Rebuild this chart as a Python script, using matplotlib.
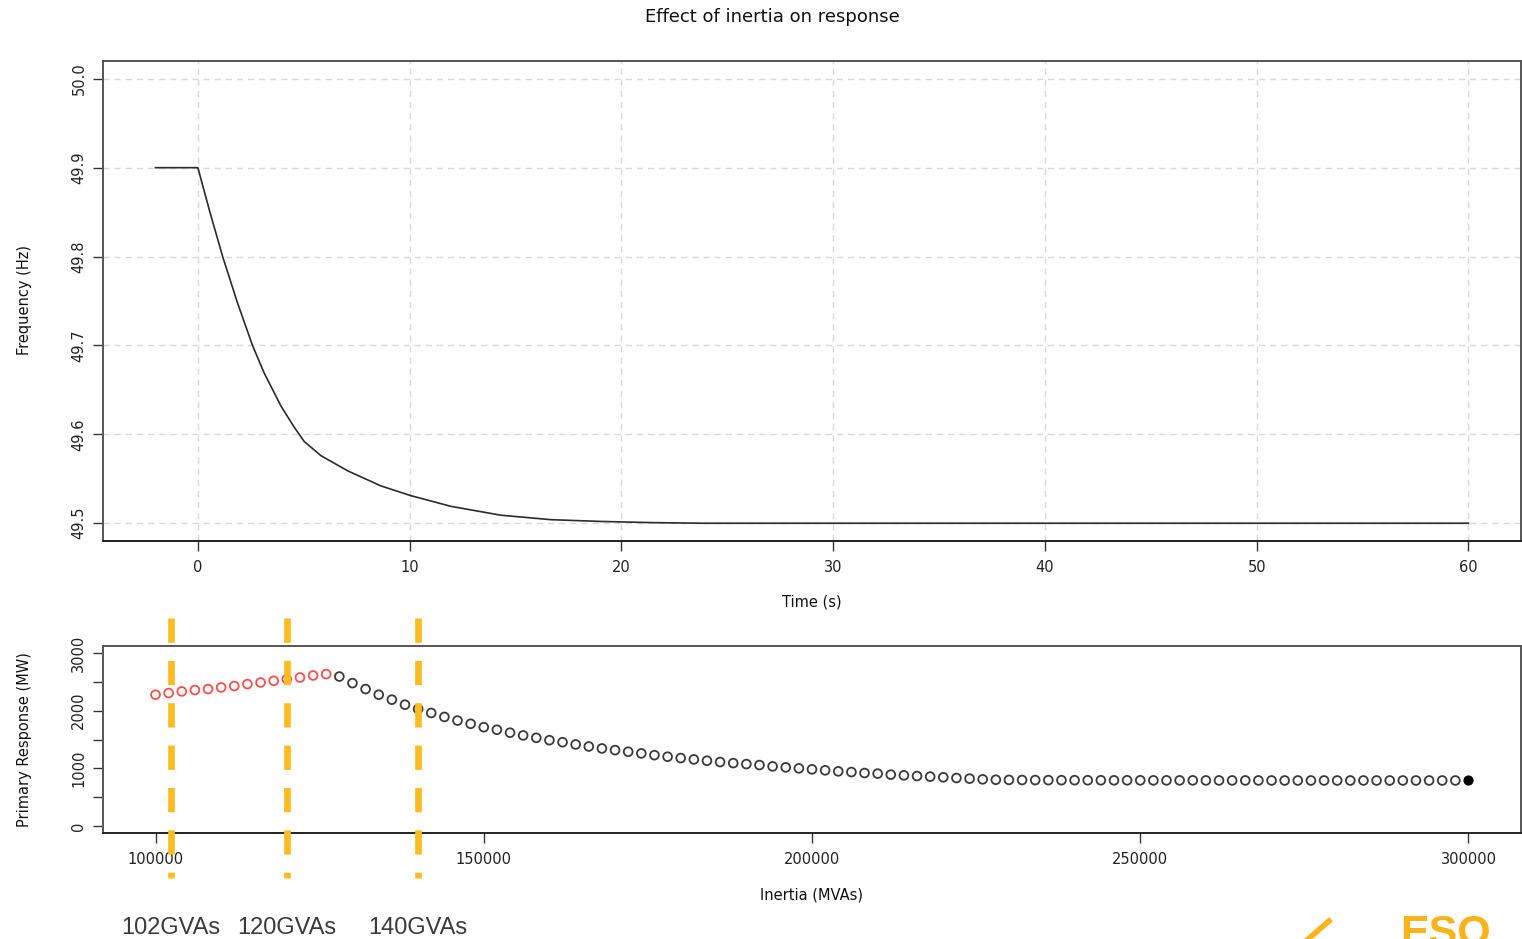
import numpy as np
import matplotlib
matplotlib.use("Agg")
import matplotlib.pyplot as plt
from matplotlib.lines import Line2D
import matplotlib.transforms as mtransforms

# frequency trace
time_s = [-2, 0, 0.58, 1.17, 1.87, 2.58, 3.13, 3.92, 4.55, 5.02, 5.81, 7.07,
          8.64, 10.06, 11.95, 14.31, 16.67, 19.04, 21.4, 23.8, 60]
freq_hz = [49.9, 49.9, 49.849, 49.800, 49.748, 49.700, 49.669, 49.632, 49.608,
           49.592, 49.576, 49.559, 49.542, 49.531, 49.519, 49.509, 49.504,
           49.502, 49.5007, 49.500, 49.500]

# primary response vs inertia (bottom panel)
inertia = np.arange(100000, 300001, 2000)
response = [2276, 2305, 2333, 2357, 2374, 2402, 2426, 2460, 2488, 2517,
            2547, 2574, 2609, 2633, 2591, 2477, 2374, 2276, 2190, 2103,
            2029, 1960, 1891, 1828, 1772, 1713, 1669, 1618, 1571, 1529,
            1488, 1453, 1414, 1379, 1345, 1316, 1288, 1259, 1229, 1202,
            1178, 1155, 1132, 1109, 1091, 1074, 1057, 1034, 1017, 1000,
            983, 966, 948, 936, 919, 909, 891, 879, 867, 857,
            845, 833, 822, 810, 803, 800, 798, 797, 796, 795,
            795, 794, 794, 793, 793, 793, 792, 792, 792, 792,
            791, 791, 791, 791, 791, 790, 790, 790, 790, 790,
            790, 790, 790, 790, 790, 790, 790, 790, 790, 790, 790]
n_red = 14

marker_inertia = [102400, 120000, 140000]
marker_labels = ["102GVAs", "120GVAs", "140GVAs"]

W, H = 1522, 939
plt.rcParams["font.family"] = "DejaVu Sans"
plt.rcParams["lines.scale_dashes"] = False


def fx(x):
    return x / W


def fy(y):
    return 1 - y / H


def style_axes(ax):
    for s in ax.spines.values():
        s.set_color("#555555")
        s.set_linewidth(1.4)
    ax.spines["bottom"].set_color("#222222")
    ax.tick_params(direction="out", length=7, width=1, colors="#333333",
                   labelsize=10.5, labelcolor="#222222")
    ax.tick_params(axis="x", pad=7)
    ax.tick_params(axis="y", pad=5, labelrotation=90)
    for lab in ax.get_yticklabels():
        lab.set_va("center")


fig = plt.figure(figsize=(W / 100, H / 100), dpi=100)

# top panel: frequency
ax1 = fig.add_axes([fx(103), fy(541), fx(1418), 480 / H])
ax1.plot(time_s, freq_hz, color="#2b2b2b", lw=1.2)
ax1.set_xlim(-4.48, 62.48)
ax1.set_ylim(49.48, 50.02)
ax1.set_xticks(range(0, 61, 10))
ax1.set_yticks([49.5, 49.6, 49.7, 49.8, 49.9, 50.0])
ax1.set_yticklabels(["49.5", "49.6", "49.7", "49.8", "49.9", "50.0"])
ax1.grid(True, color="#d9d9d9", lw=1, linestyle=(0, (4.5, 3.5)))
style_axes(ax1)

# bottom panel: primary response
ax2 = fig.add_axes([fx(103), fy(833), fx(1418), 187 / H])
ax2.scatter(inertia[:n_red], response[:n_red], s=40, facecolors="none",
            edgecolors="#ff4d4d", linewidths=1.3, zorder=3)
ax2.scatter(inertia[n_red:-1], response[n_red:-1], s=40, facecolors="none",
            edgecolors="#3a3a3a", linewidths=1.3, zorder=3)
ax2.scatter(inertia[-1:], response[-1:], s=40, color="black", zorder=3)
ax2.set_xlim(92000, 308000)
ax2.set_ylim(-120, 3120)
ax2.set_xticks(range(100000, 300001, 50000))
ax2.set_yticks(range(0, 3001, 500))
ax2.set_yticklabels(["0", "", "1000", "", "2000", "", "3000"])
style_axes(ax2)

# orange marker lines, running past the axes
trans = mtransforms.blended_transform_factory(ax2.transData, ax2.transAxes)
y_top = (833 - 618) / 187
y_bot = (833 - 878) / 187
for xv, lab in zip(marker_inertia, marker_labels):
    ax2.plot([xv, xv], [y_top, y_bot], transform=trans, clip_on=False,
             color="#fbbb21", lw=4.8, linestyle=(0, (17.5, 13)),
             solid_capstyle="butt", dash_capstyle="butt", zorder=4)
    xpix = ax2.transData.transform((xv, 0))[0]
    fig.text(xpix / W, fy(928), lab, ha="center", va="center",
             fontsize=17, family="Liberation Sans", color="#3a3a3a")

# text
fig.text(fx(772), fy(17), "Effect of inertia on response", ha="center",
         va="center", fontsize=13, color="#111111")
fig.text(fx(812), fy(602), "Time (s)", ha="center", va="center",
         fontsize=10.5, color="#111111")
fig.text(fx(812), fy(895), "Inertia (MVAs)", ha="center", va="center",
         fontsize=10.5, color="#111111")
fig.text(fx(25), fy(300), "Frequency (Hz)", ha="center", va="center",
         rotation=90, fontsize=10.5, color="#111111")
fig.text(fx(25), fy(740), "Primary Response (MW)", ha="center", va="center",
         rotation=90, fontsize=10.5, color="#111111")

# logo fragment, cut off at the bottom edge
fig.text(fx(1400), fy(914), "ESO", ha="left", va="top", fontsize=31,
         family="Liberation Sans", weight="bold", color="#f9b31b")
fig.add_artist(Line2D([fx(1306), fx(1329)], [fy(941), fy(921)],
                      transform=fig.transFigure, color="#f9b31b", lw=4))

fig.savefig("out.png", dpi=100)
